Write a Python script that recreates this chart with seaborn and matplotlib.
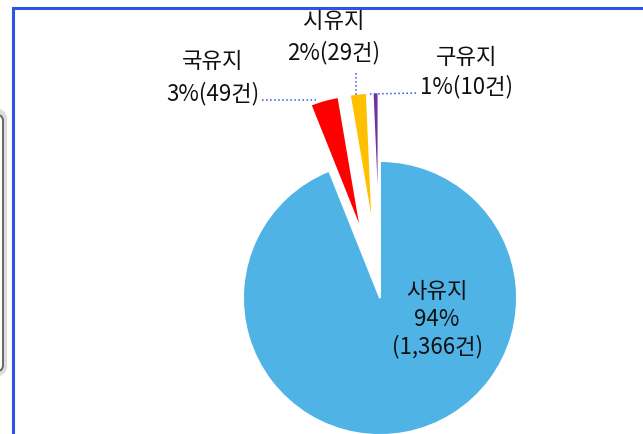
"""토지 소유 구분별 비율 파이 차트."""
import matplotlib
matplotlib.use("Agg")
import matplotlib.pyplot as plt
from matplotlib.patches import FancyBboxPatch, Rectangle
import seaborn as sns

# 데이터
labels = ["사유지", "국유지", "시유지", "구유지"]
counts = [1366, 49, 29, 10]
pcts = [94, 3, 2, 1]
colors = ["#4FB3E6", "#FF0000", "#FFC000", "#7030A0"]
explode = [0, 0.5, 0.5, 0.5]

sns.set_theme(style="white")
plt.rcParams["font.family"] = ["Noto Sans CJK KR", "DejaVu Sans"]

W, H = 643, 434
fig = plt.figure(figsize=(W / 100, H / 100), dpi=100)
fig.patch.set_facecolor("white")


def px(x, y):
    # 픽셀 좌표 -> figure 비율
    return x / W, 1 - y / H


# 파이 축: 중심 (380, 298), 반지름 137px
cx, cy, r = 380, 298, 137
ax = fig.add_axes([0, 0, 1, 1])
ax.pie(counts, colors=colors, explode=explode, startangle=90, counterclock=False,
       wedgeprops=dict(edgecolor="white", linewidth=1.4))
ax.set_xlim(-cx / r, (W - cx) / r)
ax.set_ylim(-(H - cy) / r, cy / r)
ax.set_aspect("equal", adjustable="datalim")
ax.axis("off")

fs = 16
tc = "#111111"
# 사유지 라벨 (조각 안)
fig.text(*px(437, 291), labels[0], ha="center", va="center", fontsize=fs, color=tc)
fig.text(*px(437, 319), f"{pcts[0]}%", ha="center", va="center", fontsize=fs, color=tc)
fig.text(*px(437, 347), f"({counts[0]:,}건)", ha="center", va="center", fontsize=fs, color=tc)

# 작은 조각 라벨
fig.text(*px(213, 62), labels[1], ha="center", va="center", fontsize=fs, color=tc)
fig.text(*px(213, 94), f"{pcts[1]}%({counts[1]}건)", ha="center", va="center", fontsize=fs, color=tc)
fig.text(*px(334, 22), labels[2], ha="center", va="center", fontsize=fs, color=tc)
fig.text(*px(334, 53), f"{pcts[2]}%({counts[2]}건)", ha="center", va="center", fontsize=fs, color=tc)
fig.text(*px(467, 58), labels[3], ha="center", va="center", fontsize=fs, color=tc)
fig.text(*px(467, 87), f"{pcts[3]}%({counts[3]}건)", ha="center", va="center", fontsize=fs, color=tc)

# 지시선 (점선)
lc = "#3355DD"
for (x0, y0), (x1, y1) in [((262, 100), (316, 100)),
                           ((356, 73), (356, 96)),
                           ((370, 94), (418, 93))]:
    fig.lines.append(plt.Line2D([px(x0, y0)[0], px(x1, y1)[0]],
                                [px(x0, y0)[1], px(x1, y1)[1]],
                                transform=fig.transFigure, color=lc,
                                linestyle=":", linewidth=1.1))

# 파란 테두리
x0, y0 = px(13, 8)
fig.patches.append(Rectangle((x0, -0.1), 1.1, y0 + 0.1, transform=fig.transFigure,
                             fill=False, edgecolor="#2B55E6", linewidth=2.2))

# 왼쪽 회색 둥근 박스 (잘린 부분)
gx, gy = px(-40, 375)
fig.patches.append(FancyBboxPatch((gx, gy), 45 / W, (375 - 110) / H,
                                  boxstyle="round,pad=0,rounding_size=0.02",
                                  transform=fig.transFigure, facecolor="white",
                                  edgecolor="#DDDDDD", linewidth=3))
fig.patches.append(FancyBboxPatch((px(-40, 372)[0], px(-40, 372)[1]), 43 / W, (372 - 114) / H,
                                  boxstyle="round,pad=0,rounding_size=0.015",
                                  transform=fig.transFigure, facecolor="none",
                                  edgecolor="#666666", linewidth=1.4))

fig.savefig("out.png", dpi=100)
plt.close(fig)
